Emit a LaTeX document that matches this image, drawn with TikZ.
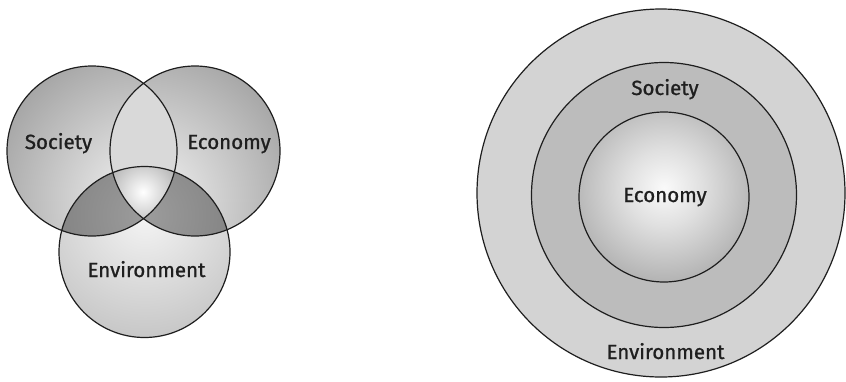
\documentclass[tikz,border=0pt]{standalone}
\usepackage{fontspec}
\setmainfont{Fira Sans}
\newfontfamily\lblfont{Fira Sans}[FakeBold=1.1]
\definecolor{ink}{HTML}{1E1E1E}
\definecolor{txt}{HTML}{1F1F1F}
\definecolor{vA}{HTML}{F5F5F5}
\definecolor{vB}{HTML}{4B4B4B}
\definecolor{eA}{HTML}{F4F4F4}
\definecolor{eB}{HTML}{777777}
\definecolor{dA}{HTML}{9C9C9C}
\definecolor{dB}{HTML}{404040}
\definecolor{tA}{HTML}{FFFFFF}
\definecolor{tB}{HTML}{707070}
\definecolor{lens}{HTML}{D9D9D9}
\definecolor{rA}{HTML}{D3D3D3}
\definecolor{rB}{HTML}{C3C3C3}
\definecolor{midring}{HTML}{BCBCBC}
\definecolor{iA}{HTML}{FAFAFA}
\definecolor{iB}{HTML}{E0E0E0}
\definecolor{iC}{HTML}{B2B2B2}
\definecolor{iD}{HTML}{828282}
\pgfdeclareradialshading{vennsh}{\pgfpoint{0bp}{0bp}}{color(0bp)=(vA); color(50bp)=(vB)}
\pgfdeclareradialshading{envsh}{\pgfpoint{0bp}{0bp}}{color(0bp)=(eA); color(50bp)=(eB)}
\pgfdeclareradialshading{darksh}{\pgfpoint{0bp}{0bp}}{color(0bp)=(dA); color(50bp)=(dB)}
\pgfdeclareradialshading{triplesh}{\pgfpoint{0bp}{0bp}}{color(0bp)=(tA); color(50bp)=(tB)}
\pgfdeclareradialshading{ringsh}{\pgfpoint{0bp}{0bp}}{color(0bp)=(rA); color(35.9bp)=(rA); color(50bp)=(rB)}
\pgfdeclareradialshading{innersh}{\pgfpoint{0bp}{0bp}}{color(0bp)=(iA); color(10bp)=(iB); color(25bp)=(iC); color(50bp)=(iD)}
\tikzset{
  outline/.style={draw=ink, line width=1.2pt},
  lbl/.style={anchor=base, inner sep=0pt, text=txt, font=\fontsize{20.5}{24}\lblfont}
}
\begin{document}
\begin{tikzpicture}[x=1pt,y=-1pt]
\useasboundingbox (0,0) rectangle (846,381);
\fill[white] (0,0) rectangle (846,381);
% ---- Venn diagram ----
\coordinate (S) at (92,151);
\coordinate (Ec) at (195,151);
\coordinate (Env) at (144.5,252);
\coordinate (vc) at (145,200);
\coordinate (ec) at (145,215);
\coordinate (tc) at (143,192);
\begin{scope}
  \clip (S) circle[radius=85pt];
  \shade[shading=vennsh] (vc) circle[radius=170pt];
\end{scope}
\begin{scope}
  \clip (Ec) circle[radius=85pt];
  \shade[shading=vennsh] (vc) circle[radius=170pt];
\end{scope}
\begin{scope}
  \clip (Env) circle[radius=85.5pt];
  \shade[shading=envsh] (ec) circle[radius=170pt];
\end{scope}
\begin{scope}
  \clip (S) circle[radius=85pt];
  \clip (Ec) circle[radius=85pt];
  \fill[lens] (S) circle[radius=90pt];
\end{scope}
\begin{scope}
  \clip (S) circle[radius=85pt];
  \clip (Env) circle[radius=85.5pt];
  \shade[shading=darksh] (ec) circle[radius=170pt];
\end{scope}
\begin{scope}
  \clip (Ec) circle[radius=85pt];
  \clip (Env) circle[radius=85.5pt];
  \shade[shading=darksh] (ec) circle[radius=170pt];
\end{scope}
\begin{scope}
  \clip (S) circle[radius=85pt];
  \clip (Ec) circle[radius=85pt];
  \clip (Env) circle[radius=85.5pt];
  \shade[shading=triplesh] (tc) circle[radius=36pt];
\end{scope}
\draw[outline] (S) circle[radius=85pt];
\draw[outline] (Ec) circle[radius=85pt];
\draw[outline] (Env) circle[radius=85.5pt];
\node[lbl] (tSoc) at (58.5,149) {Society};
\node[lbl] (tEco) at (229,149) {Economy};
\node[lbl] (tEnv) at (146.5,277) {Environment};
% ---- Nested circles ----
\coordinate (O1) at (661,193);
\coordinate (O2) at (664,195);
\coordinate (O3) at (664,197);
\coordinate (rc) at (663,195);
\coordinate (ic) at (664,188);
\begin{scope}
  \clip (O1) circle[radius=184pt];
  \shade[shading=ringsh] (rc) circle[radius=190pt];
\end{scope}
\fill[midring] (O2) circle[radius=132.5pt];
\begin{scope}
  \clip (O3) circle[radius=85pt];
  \shade[shading=innersh] (ic) circle[radius=95pt];
\end{scope}
\draw[outline] (O1) circle[radius=184pt];
\draw[outline] (O2) circle[radius=132.5pt];
\draw[outline] (O3) circle[radius=85pt];
\node[lbl] (rSoc) at (665,95) {Society};
\node[lbl] (rEco) at (665,202) {Economy};
\node[lbl] (rEnv) at (665.5,359) {Environment};
\end{tikzpicture}
\end{document}
